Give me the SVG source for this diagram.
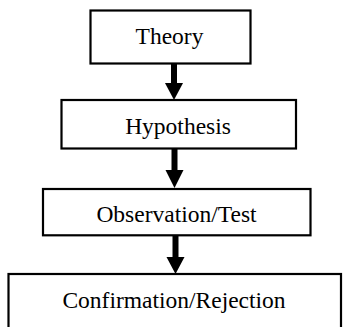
<svg xmlns="http://www.w3.org/2000/svg" width="343" height="327" viewBox="0 0 343 327">
<style>
.box{fill:#fff;stroke:#000;stroke-width:2.2}
.lbl{font-family:"Liberation Serif","Times New Roman",serif;font-size:23.5px;fill:#000;text-anchor:middle}
.shaft{stroke:#000;stroke-width:6;fill:none}
.head{fill:#000}
</style>
<rect width="343" height="327" fill="#fff"/>
<g id="connectors">
<line class="shaft" x1="174" y1="64" x2="174" y2="84"/>
<polygon class="head" points="165,83 183,83 174,100"/>
<line class="shaft" x1="174.5" y1="149" x2="174.5" y2="171"/>
<polygon class="head" points="165.5,170 183.5,170 174.5,188"/>
<line class="shaft" x1="175.5" y1="236" x2="175.5" y2="258"/>
<polygon class="head" points="166.5,257 184.5,257 175.5,274"/>
</g>
<g id="theory">
<rect class="box" x="90.5" y="10.5" width="160" height="53"/>
<text class="lbl" x="169.5" y="43.5">Theory</text>
</g>
<g id="hypothesis">
<rect class="box" x="61.5" y="100" width="234.5" height="48.5"/>
<text class="lbl" x="178" y="134.3">Hypothesis</text>
</g>
<g id="observation">
<rect class="box" x="43" y="189" width="267.5" height="46.3"/>
<text class="lbl" x="176.5" y="221.7">Observation/Test</text>
</g>
<g id="confirmation">
<rect class="box" x="8.5" y="274" width="332.5" height="70"/>
<text class="lbl" x="174" y="307.7">Confirmation/Rejection</text>
</g>
</svg>
